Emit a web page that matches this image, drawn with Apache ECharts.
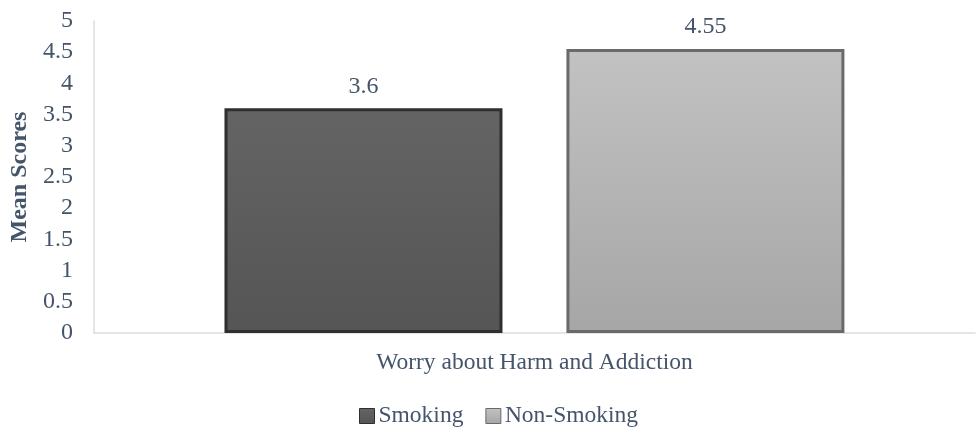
<!DOCTYPE html>
<html><head><meta charset="utf-8">
<script src="https://cdn.jsdelivr.net/npm/echarts@6/dist/echarts.min.js"></script>
<style>html,body{margin:0;padding:0;background:#fff}#c{width:976px;height:427px}</style>
</head><body><div id="c"></div>
<script>
const categories = ['Worry about Harm and Addiction'];
const seriesNames = ['Smoking', 'Non-Smoking'];
const smoking = [3.6];
const nonSmoking = [4.55];
const yTicks = [0, 0.5, 1, 1.5, 2, 2.5, 3, 3.5, 4, 4.5, 5];

const txt = '#44546A';
const font = 'Liberation Serif';
const chart = echarts.init(document.getElementById('c'));
function grad(top, bottom) {
  return new echarts.graphic.LinearGradient(0, 0, 0, 1, [{offset: 0, color: top}, {offset: 1, color: bottom}]);
}
chart.setOption({
  animation: false,
  textStyle: {fontFamily: font},
  grid: {left: 93, right: 1, top: 21, bottom: 94},
  legend: {
    top: 399, left: 354, itemWidth: 15, itemHeight: 15, itemGap: 22,
    itemStyle: {borderWidth: 1},
    textStyle: {color: txt, fontSize: 23.5, fontFamily: font, padding: [0, 0, 0, -1]},
    data: seriesNames.map(n => ({name: n, icon: 'rect'}))
  },
  xAxis: {
    type: 'category', data: categories,
    axisLine: {lineStyle: {color: '#D9DDE3', width: 1.5}},
    axisTick: {show: false},
    axisLabel: {color: txt, fontSize: 23.5, fontFamily: font, margin: 18}
  },
  yAxis: {
    type: 'value', min: 0, max: 5, interval: 0.5,
    name: 'Mean Scores', nameLocation: 'middle', nameGap: 58,
    nameTextStyle: {color: txt, fontSize: 24, fontWeight: 'bold', fontFamily: font},
    axisLine: {show: true, lineStyle: {color: '#D9DDE3', width: 1.5}},
    axisTick: {show: false},
    splitLine: {show: false},
    axisLabel: {color: txt, fontSize: 24, fontFamily: font, margin: 21,
      formatter: v => yTicks.includes(v) ? String(v) : ''}
  },
  series: [
    {
      name: seriesNames[0], type: 'bar', data: smoking,
      barWidth: 278, barGap: '23%',
      itemStyle: {color: grad('#646464', '#555555'), borderColor: '#2F2F2F', borderWidth: 3},
      label: {show: true, position: 'top', distance: 10, color: txt, fontSize: 24, fontFamily: font}
    },
    {
      name: seriesNames[1], type: 'bar', data: nonSmoking,
      barWidth: 278, barGap: '23%',
      itemStyle: {color: grad('#C2C2C2', '#A6A6A6'), borderColor: '#6A6A6A', borderWidth: 3},
      label: {show: true, position: 'top', distance: 10, color: txt, fontSize: 24, fontFamily: font}
    }
  ]
});
</script></body></html>
